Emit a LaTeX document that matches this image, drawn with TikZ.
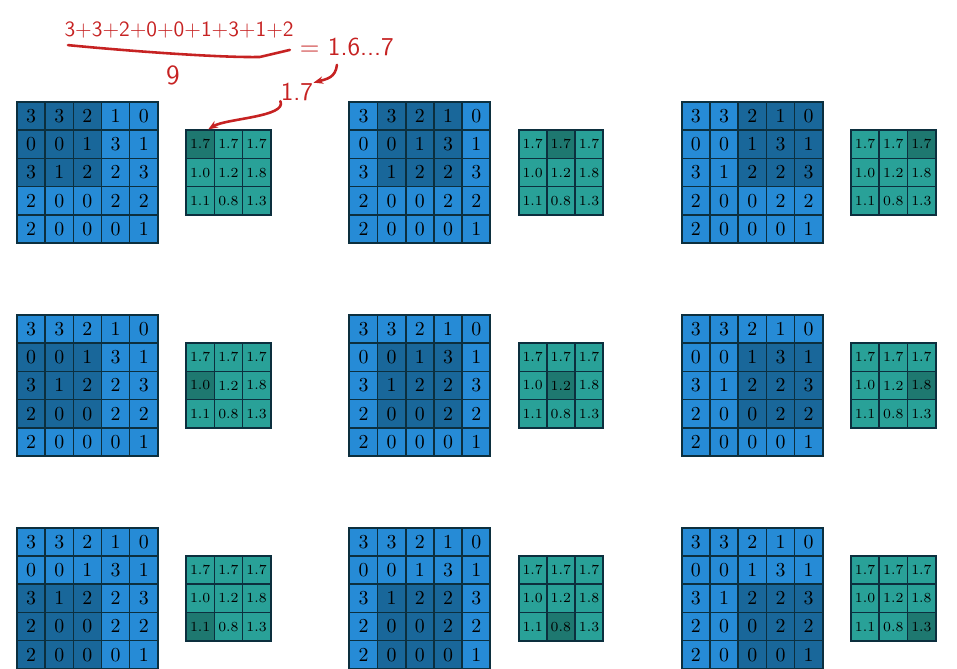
\documentclass[tikz,border=0pt]{standalone}
\usetikzlibrary{arrows.meta}

\definecolor{inblue}{HTML}{268BD6}
\definecolor{indark}{HTML}{19679A}
\definecolor{outteal}{HTML}{29A198}
\definecolor{outdark}{HTML}{1E7870}
\definecolor{gridline}{HTML}{0C2F3E}
\definecolor{inkred}{HTML}{C62222}

\tikzset{
  incell/.style={draw=gridline, line width=0.8pt, fill=inblue, minimum size=0.5cm, inner sep=0pt},
  outcell/.style={draw=gridline, line width=0.8pt, fill=outteal, minimum size=0.5cm, inner sep=0pt, font=\scriptsize},
  ink/.style={inkred, line width=1.3pt, line cap=round, line join=round},
  inktext/.style={inkred, font=\sffamily, inner sep=0pt}
}

\begin{document}
\begin{tikzpicture}[x=0.5cm, y=0.5cm]
  \useasboundingbox (0,0) rectangle (33.94,-23.72);
  % nine panels, one per window position
  \foreach \r in {0,1,2} {
    \foreach \c in {0,1,2} {
      \pgfmathsetmacro\xo{0.6+11.79*\c}
      \pgfmathsetmacro\yo{3.62+7.55*\r}
      % input 5x5
      \foreach \row [count=\i from 0] in {{3,3,2,1,0},{0,0,1,3,1},{3,1,2,2,3},{2,0,0,2,2},{2,0,0,0,1}} {
        \foreach \v [count=\j from 0] in \row {
          \pgfmathtruncatemacro\win{(\i>=\r)*(\i<=\r+2)*(\j>=\c)*(\j<=\c+2)}
          \ifnum\win=1
            \node[incell, fill=indark] (in-\r\c-\i\j) at (\xo+\j+0.5, -\yo-\i-0.5) {$\v$};
          \else
            \node[incell] (in-\r\c-\i\j) at (\xo+\j+0.5, -\yo-\i-0.5) {$\v$};
          \fi
        }
      }
      \draw[gridline, line width=1pt] (\xo,-\yo) rectangle ++(5,-5);
      % output 3x3
      \foreach \row [count=\i from 0] in {{1.7,1.7,1.7},{1.0,1.2,1.8},{1.1,0.8,1.3}} {
        \foreach \v [count=\j from 0] in \row {
          \pgfmathtruncatemacro\hit{(\i==\r)*(\j==\c)}
          \ifnum\hit=1
            \node[outcell, fill=outdark] (out-\r\c-\i\j) at (\xo+6+\j+0.5, -\yo-1-\i-0.5) {\v};
          \else
            \node[outcell] (out-\r\c-\i\j) at (\xo+6+\j+0.5, -\yo-1-\i-0.5) {\v};
          \fi
        }
      }
      \draw[gridline, line width=1pt] (\xo+6,-\yo-1) rectangle ++(3,-3);
    }
  }

  % hand notes
  \node[inktext, font=\sffamily\fontsize{11}{13}\selectfont] (sum) at (6.35,-1.06) {3+3+2+0+0+1+3+1+2};
  \draw[ink] (2.41,-1.60) .. controls (5,-1.85) and (8,-2.05) .. (9.22,-2.02) -- (10.28,-1.77);
  \node[inktext, font=\sffamily\fontsize{14}{16}\selectfont] (nine) at (6.13,-2.66) {9};
  \node[inktext, font=\sffamily\fontsize{13}{15}\selectfont] (mean) at (12.3,-1.67) {= 1.6...7};
  \node[inktext, font=\sffamily\fontsize{13}{15}\selectfont] (round) at (10.53,-3.26) {1.7};
  \coordinate (hook) at (11.95,-2.30);
  \draw[ink, -{Stealth[length=5pt]}] (hook) .. controls (11.9,-2.75) and (11.6,-2.8) .. (round.north east);
  \draw[ink, -{Stealth[length=5pt]}] (round.south west) .. controls (10.2,-4.15) and (8.0,-4.2) .. ([xshift=4pt]out-00-00.north);
\end{tikzpicture}
\end{document}
